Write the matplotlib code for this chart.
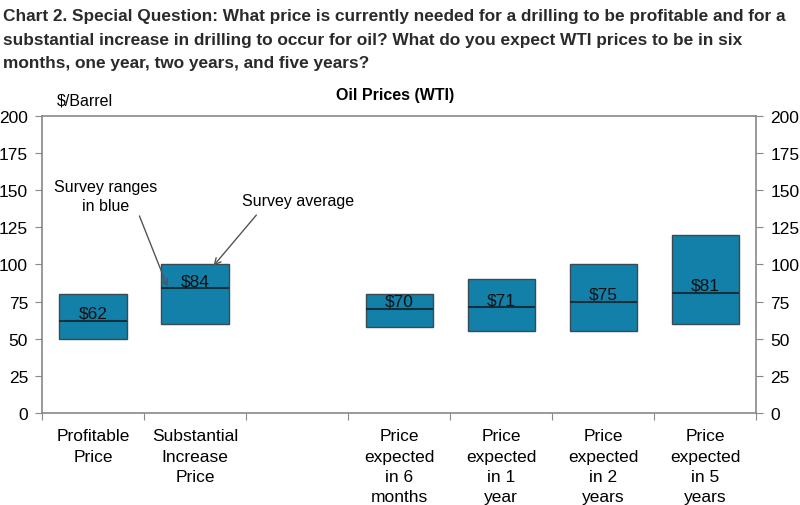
import numpy as np
import matplotlib
matplotlib.use("Agg")
import matplotlib.pyplot as plt

categories = ["Profitable\nPrice", "Substantial\nIncrease\nPrice", "",
              "Price\nexpected\nin 6\nmonths", "Price\nexpected\nin 1\nyear",
              "Price\nexpected\nin 2\nyears", "Price\nexpected\nin 5\nyears"]
range_low = [50, 60, None, 58, 55, 55, 60]
range_high = [80, 100, None, 80, 90, 100, 120]
averages = [62, 84, None, 70, 71, 75, 81]
yticks = [0, 25, 50, 75, 100, 125, 150, 175, 200]

plt.rcParams['font.family'] = ['Liberation Sans', 'DejaVu Sans']

fig = plt.figure(figsize=(8, 5.06), dpi=100)
ax = fig.add_axes([0.0525, 0.182, 0.893, 0.587])

bar_color = '#1380a9'
edge_color = '#3a4a52'
x = np.arange(len(categories))
for i in x:
    if range_low[i] is None:
        continue
    ax.bar(i, range_high[i] - range_low[i], bottom=range_low[i], width=0.66,
           color=bar_color, edgecolor=edge_color, linewidth=1.0, zorder=2)
    ax.hlines(averages[i], i - 0.33, i + 0.33, color='#10303c', linewidth=1.5, zorder=3)
    ax.text(i, averages[i] + 2, f"${averages[i]}", ha='center', va='baseline',
            fontsize=12.5, color='#111111', zorder=4)

ax.set_xlim(-0.5, len(categories) - 0.5)
ax.set_ylim(0, 200)
ax.set_xticks(np.arange(len(categories) + 1) - 0.5)
ax.set_xticklabels([])
ax.set_xticks(x, minor=True)
ax.set_xticklabels(categories, minor=True, fontsize=12.5, linespacing=1.45)
ax.tick_params(axis='x', which='minor', length=0, pad=11)
ax.tick_params(axis='x', which='major', length=5, color='#888888', direction='out')

ax.set_yticks(yticks)
ax.tick_params(axis='y', which='both', left=True, right=True, labelleft=True,
               labelright=True, length=5, color='#888888', labelsize=12.5, pad=5)
for s in ax.spines.values():
    s.set_color('#888888')
    s.set_linewidth(1.2)

ax.annotate("Survey ranges\nin blue", xy=(0.73, 85), xytext=(0.12, 146),
            ha='center', va='center', fontsize=11.5, linespacing=1.35,
            arrowprops=dict(arrowstyle='->', color='#555555', lw=1.0,
                            shrinkA=0, shrinkB=0, relpos=(0.82, 0.0)))
ax.annotate("Survey average", xy=(1.18, 99), xytext=(2.01, 143),
            ha='center', va='center', fontsize=11.5,
            arrowprops=dict(arrowstyle='->', color='#555555', lw=1.0,
                            shrinkA=4, shrinkB=0, relpos=(0.18, 0.0)))

fig.text(0.004, 0.982, "Chart 2. Special Question: What price is currently needed for a drilling to be profitable and for a\n"
         "substantial increase in drilling to occur for oil? What do you expect WTI prices to be in six\n"
         "months, one year, two years, and five years?",
         ha='left', va='top', fontsize=12.4, fontweight='bold', color='#2a2a2a', linespacing=1.7)
fig.text(0.071, 0.80, "$/Barrel", ha='left', va='center', fontsize=11.5)
fig.text(0.494, 0.812, "Oil Prices (WTI)", ha='center', va='center', fontsize=11.5, fontweight='bold')

fig.savefig("out.png", dpi=100)
